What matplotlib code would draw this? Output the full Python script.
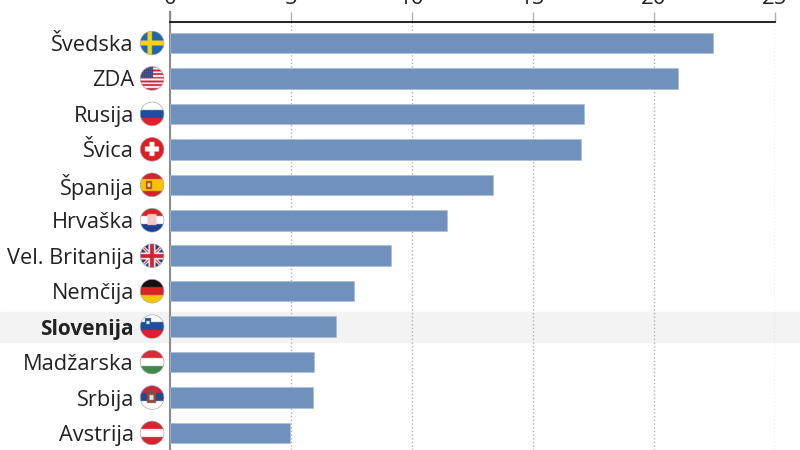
import matplotlib.pyplot as plt
import numpy as np
from matplotlib.patches import Ellipse

plt.rcParams["font.family"] = ["Open Sans", "DejaVu Sans"]

countries = ["Švedska", "ZDA", "Rusija", "Švica", "Španija", "Hrvaška", "Vel. Britanija",
             "Nemčija", "Slovenija", "Madžarska", "Srbija", "Avstrija"]
values = [22.45, 21.0, 17.1, 17.0, 13.35, 11.45, 9.15, 7.6, 6.85, 5.95, 5.9, 4.95]
flags = ["se", "us", "ru", "ch", "es", "hr", "gb", "de", "si", "hu", "rs", "at"]
xticks = [0, 5, 10, 15, 20, 25]
highlight = "Slovenija"

STRIPES = {
    "ru": ["#ffffff", "#1c4f9c", "#e3202b"],
    "es": ["#d2232a", "#f5c400", "#f5c400", "#d2232a"],
    "hr": ["#d8232a", "#ffffff", "#20408f"],
    "de": ["#111111", "#d8232a", "#f6c700"],
    "si": ["#ffffff", "#1d4fa0", "#e0202a"],
    "hu": ["#d3303a", "#ffffff", "#3f8a4b"],
    "rs": ["#c8283a", "#27488f", "#ffffff"],
    "at": ["#d8232f", "#ffffff", "#d8232f"],
}


def rgb(color):
    return np.array(plt.matplotlib.colors.to_rgb(color))


def flag_image(code, n=48):
    img = np.ones((n, n, 3))
    if code in STRIPES:
        cols = STRIPES[code]
        for i, c in enumerate(cols):
            img[i * n // len(cols):(i + 1) * n // len(cols)] = rgb(c)
    if code == "se":
        img[:] = rgb("#1f68ae")
        img[19:29] = rgb("#f3d217")
        img[:, 15:24] = rgb("#f3d217")
    elif code == "ch":
        img[:] = rgb("#dc1f26")
        img[19:29, 10:38] = 1
        img[10:38, 19:29] = 1
    elif code == "us":
        for i in range(13):
            img[i * n // 13:(i + 1) * n // 13] = rgb("#c8283c") if i % 2 == 0 else 1
        img[:24, :26] = rgb("#38407f")
        img[2:24:4, 2:26:4] = 1
    elif code == "gb":
        img[:] = rgb("#27397f")
        yy, xx = np.mgrid[:n, :n]
        img[(abs(yy - xx) < 5) | (abs(yy + xx - n) < 5)] = 1
        img[(abs(yy - xx) < 2) | (abs(yy + xx - n) < 2)] = rgb("#cf2435")
        img[17:31] = 1
        img[:, 17:31] = 1
        img[20:28] = rgb("#cf2435")
        img[:, 20:28] = rgb("#cf2435")
    elif code == "es":
        img[16:32, 12:24] = rgb("#a5442a")
        img[20:28, 15:21] = rgb("#e8d9a0")
    elif code == "hr":
        img[12:34, 15:33] = 1
        img[12:34:4, 15:33:2] = rgb("#d8232a")
        img[14:34:4, 16:33:2] = rgb("#d8232a")
    elif code == "si":
        img[8:24, 10:22] = rgb("#1d4fa0")
        img[14:20, 13:19] = 1
    elif code == "rs":
        img[10:36, 14:32] = rgb("#8d4a3c")
        img[20:30, 19:27] = rgb("#e8e2d8")
    return img


fig, ax = plt.subplots(figsize=(8, 4.5))
fig.subplots_adjust(left=170 / 800, right=775 / 800, top=1 - 22 / 450, bottom=0)

y = np.arange(len(countries))
ax.barh(y, values, height=0.58, color="#7191bd", edgecolor="#a9bcd8", linewidth=0.5, zorder=3)

# grey band behind the home country
row = countries.index(highlight)
ax.axhspan(row - 0.42, row + 0.42, xmin=-170 / 605, xmax=630 / 605, color="#f3f3f3", zorder=0, clip_on=False)

ax.set_xlim(0, 25)
ax.set_ylim(11.48, -0.592)
ax.xaxis.tick_top()
ax.set_xticks(xticks)
ax.set_yticks(y, countries)
ax.grid(axis="x", color="#b0b0b0", linestyle=":", linewidth=1, zorder=1)
ax.tick_params(axis="x", length=7, width=1, color="#b0b0b0", pad=2.5, labelsize=16, labelcolor="#222222")
ax.tick_params(axis="y", length=0, pad=26, labelsize=15.7, labelcolor="#222222")
for tick in ax.xaxis.get_major_ticks():
    tick.tick2line.set_linestyle(":")
ax.get_yticklabels()[row].set_fontweight("bold")
ax.get_yticklabels()[row].set_fontsize(15)

for side in ["right", "bottom"]:
    ax.spines[side].set_visible(False)
ax.spines["top"].set_color("#111111")
ax.spines["top"].set_linewidth(1.3)
ax.spines["left"].set_color("#8c8c8c")
ax.spines["left"].set_linewidth(1.5)
ax.axvline(0, ymin=1, ymax=1.024, color="#8c8c8c", linewidth=1.5, clip_on=False)

# round flags sit between the names and the axis
for i, code in enumerate(flags):
    cx, rx, ry = -0.74, 0.49, 0.335
    im = ax.imshow(flag_image(code), extent=(cx - rx, cx + rx, i + ry, i - ry), aspect="auto", zorder=4, interpolation="bilinear")
    clip = Ellipse((cx, i), 2 * rx, 2 * ry, transform=ax.transData)
    im.set_clip_box(fig.bbox)
    im.set_clip_path(clip)
    ax.add_patch(Ellipse((cx, i), 2 * rx, 2 * ry, fill=False, edgecolor="#aaaaaa", linewidth=0.5, clip_on=False, zorder=5))

ax.set_xlim(0, 25)
ax.set_ylim(11.48, -0.592)
fig.savefig("out.png", dpi=100)
